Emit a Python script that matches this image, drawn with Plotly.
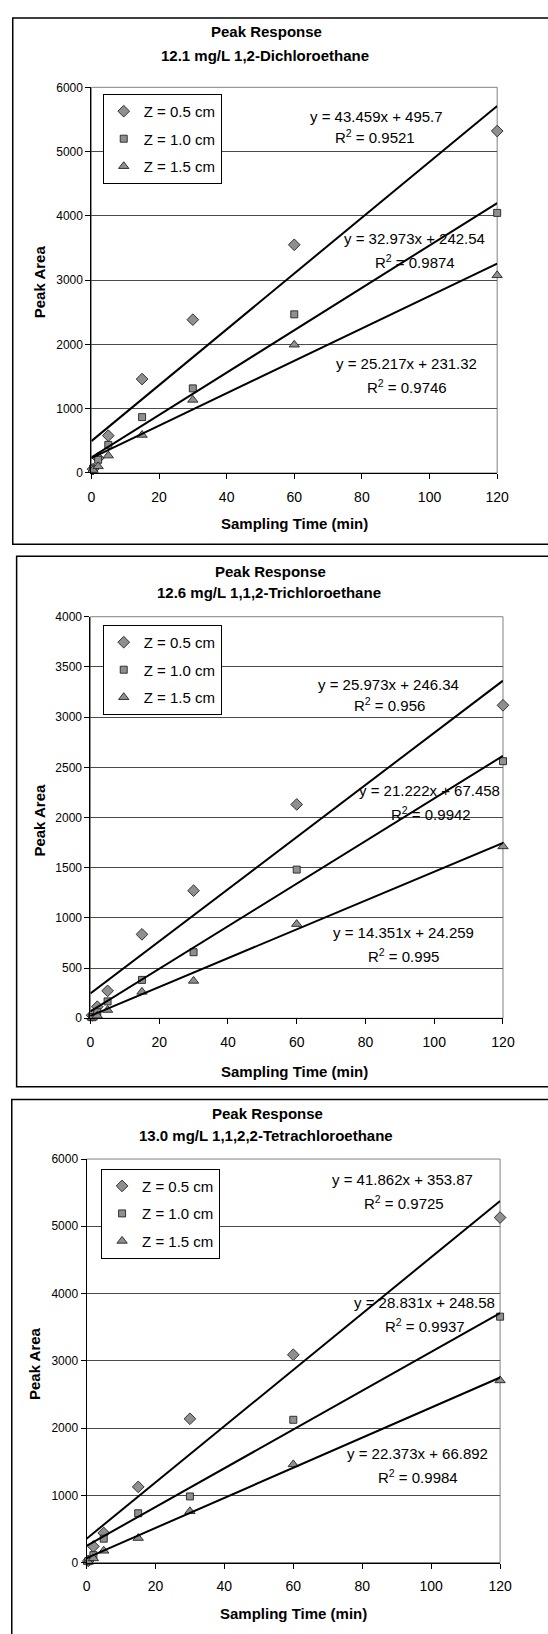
import plotly.graph_objects as go

W, H = 548, 1634
FONT = "Liberation Sans, Arial, sans-serif"

# ---------------- data ----------------
times = [0.5, 2, 5, 15, 30, 60, 120]
series_names = ["Z = 0.5 cm", "Z = 1.0 cm", "Z = 1.5 cm"]
x_ticks = [0, 20, 40, 60, 80, 100, 120]

# Panel 1: 12.1 mg/L 1,2-Dichloroethane
dca_title = "12.1 mg/L 1,2-Dichloroethane"
dca_z05 = [60, 230, 581, 1461, 2385, 3550, 5320]
dca_z10 = [67, 205, 437, 869, 1316, 2468, 4046]
dca_z15 = [45, 103, 270, 591, 1137, 1995, 3075]
dca_slopes = [43.459, 32.973, 25.217]
dca_intercepts = [495.7, 242.54, 231.32]
dca_r2 = ["0.9521", "0.9874", "0.9746"]

# Panel 2: 12.6 mg/L 1,1,2-Trichloroethane
tca_title = "12.6 mg/L 1,1,2-Trichloroethane"
tca_z05 = [30, 115, 273, 836, 1271, 2130, 3118]
tca_z10 = [10, 60, 168, 382, 658, 1481, 2561]
tca_z15 = [5, 25, 82, 263, 372, 938, 1712]
tca_slopes = [25.973, 21.222, 14.351]
tca_intercepts = [246.34, 67.458, 24.259]
tca_r2 = ["0.956", "0.9942", "0.995"]

# Panel 3: 13.0 mg/L 1,1,2,2-Tetrachloroethane
pca_title = "13.0 mg/L 1,1,2,2-Tetrachloroethane"
pca_z05 = [25, 240, 440, 1125, 2138, 3090, 5130]
pca_z10 = [20, 110, 355, 733, 983, 2123, 3656]
pca_z15 = [10, 62, 175, 364, 762, 1460, 2708]
pca_slopes = [41.862, 28.831, 22.373]
pca_intercepts = [353.87, 248.58, 66.892]
pca_r2 = ["0.9725", "0.9937", "0.9984"]

# ---------------- layout (pixel positions) ----------------
def xp(x):
    return x / W

def yp(y):
    return 1 - y / H

symbols = ["diamond", "square", "triangle-up"]
msizes = [9, 7, 9]

panels = [
    dict(title=dca_title, series=[dca_z05, dca_z10, dca_z15], slopes=dca_slopes,
         intercepts=dca_intercepts, r2=dca_r2, ymax=6000, dtick=1000,
         plot=(90, 508, 81, 470), box=(9, 11, 600, 542),
         t1=(270, 25), t2=(269, 49), legend=(101.7, 87.7),
         eq=[((384, 110), (382, 131)), ((423, 233.5), (423, 256.5)), ((415, 360), (415, 383))],
         ytitle=(36.7, 277), xtitle=(299, 521)),
    dict(title=tca_title, series=[tca_z05, tca_z10, tca_z15], slopes=tca_slopes,
         intercepts=tca_intercepts, r2=tca_r2, ymax=4000, dtick=500,
         plot=(89, 514, 615, 1020), box=(13, 554, 600, 1089),
         t1=(274, 569.5), t2=(272.5, 591), legend=(101.7, 623.3),
         eq=[((396, 683.5), (397, 703.5)), ((438.5, 790), (440, 813)), ((411, 933), (411, 957))],
         ytitle=(36.7, 820), xtitle=(299, 1073.5)),
    dict(title=pca_title, series=[pca_z05, pca_z10, pca_z15], slopes=pca_slopes,
         intercepts=pca_intercepts, r2=pca_r2, ymax=6000, dtick=1000,
         plot=(85, 511, 1162, 1569), box=(8, 1102, 600, 1660),
         t1=(271.5, 1116), t2=(270, 1138.5), legend=(100, 1171.7),
         eq=[((410.5, 1183), (412.5, 1205.5)), ((433, 1307), (434, 1330)), ((426, 1459), (426.5, 1482.5))],
         ytitle=(31.7, 1368), xtitle=(298, 1620)),
]

fig = go.Figure()
annotations = []
shapes = []
layout = dict(
    width=W, height=H, margin=dict(l=0, r=0, t=0, b=0),
    paper_bgcolor="white", plot_bgcolor="white",
    font=dict(family=FONT, color="black"),
)

for i, p in enumerate(panels):
    n = "" if i == 0 else str(i + 1)
    xa, ya = "x" + n, "y" + n
    leg = "legend" + n
    L, R, T, B = p["plot"]

    for k in range(3):
        fig.add_trace(go.Scatter(
            x=times, y=p["series"][k], mode="markers", name=series_names[k],
            xaxis=xa, yaxis=ya, legend=leg, legendgroup=f"{i}-{k}",
            cliponaxis=False,
            marker=dict(symbol=symbols[k], size=msizes[k], color="#8f8f8f",
                        line=dict(color="#222222", width=0.9)),
        ))
    for k in range(3):
        xs = [0, 120]
        ys = [p["slopes"][k] * x + p["intercepts"][k] for x in xs]
        fig.add_trace(go.Scatter(
            x=xs, y=ys, mode="lines", showlegend=False, xaxis=xa, yaxis=ya,
            line=dict(color="black", width=2), cliponaxis=False, hoverinfo="skip",
        ))

    layout["xaxis" + n] = dict(
        domain=[xp(L), xp(R)], range=[0, 120], anchor=ya,
        tickvals=x_ticks, ticks="outside", ticklen=5, tickcolor="black",
        showline=True, linecolor="black", linewidth=1, showgrid=False, zeroline=False,
        tickfont=dict(size=14, family=FONT, color="black"), ticklabelstandoff=6,
    )
    layout["yaxis" + n] = dict(
        domain=[yp(B), yp(T)], range=[0, p["ymax"]], anchor=xa, dtick=p["dtick"],
        ticks="outside", ticklen=5, tickcolor="black",
        showline=True, linecolor="black", linewidth=1,
        showgrid=True, gridcolor="#4a4a4a", gridwidth=1, zeroline=False,
        tickfont=dict(size=12, family=FONT, color="black"),
    )
    layout[leg] = dict(
        x=xp(p["legend"][0]), y=yp(p["legend"][1]), xanchor="left", yanchor="top",
        xref="paper", yref="paper",
        bgcolor="white", bordercolor="black", borderwidth=1,
        font=dict(size=15, family=FONT, color="black"),
        traceorder="grouped", tracegroupgap=5, itemwidth=30,
    )

    # plot-area border (gray) and chart-area border (black)
    shapes.append(dict(type="rect", xref="paper", yref="paper",
                       x0=xp(L), x1=xp(R), y0=yp(B), y1=yp(T),
                       line=dict(color="#808080", width=1), layer="between"))
    bx0, by0, bx1, by1 = p["box"]
    shapes.append(dict(type="rect", xref="paper", yref="paper",
                       x0=xp(bx0), x1=xp(bx1), y0=yp(by1), y1=yp(by0),
                       line=dict(color="black", width=1.5), layer="below"))

    annotations.append(dict(text="<b>Peak Response</b>", x=xp(p["t1"][0]), y=yp(p["t1"][1]),
                            xref="paper", yref="paper", showarrow=False,
                            xanchor="center", yanchor="middle", font=dict(size=15, family=FONT)))
    annotations.append(dict(text="<b>" + p["title"] + "</b>", x=xp(p["t2"][0]), y=yp(p["t2"][1]),
                            xref="paper", yref="paper", showarrow=False,
                            xanchor="center", yanchor="middle", font=dict(size=15, family=FONT)))
    annotations.append(dict(text="<b>Peak Area</b>", x=xp(p["ytitle"][0]), y=yp(p["ytitle"][1]),
                            xref="paper", yref="paper", showarrow=False, textangle=-90,
                            xanchor="center", yanchor="middle", font=dict(size=15, family=FONT)))
    annotations.append(dict(text="<b>Sampling Time (min)</b>", x=xp(p["xtitle"][0]), y=yp(p["xtitle"][1]),
                            xref="paper", yref="paper", showarrow=False,
                            xanchor="center", yanchor="middle", font=dict(size=15, family=FONT)))
    for k in range(3):
        (ex, ey), (rx, ry) = p["eq"][k]
        annotations.append(dict(text=f"y = {p['slopes'][k]}x + {p['intercepts'][k]}",
                                x=xp(ex), y=yp(ey), xref="paper", yref="paper", showarrow=False,
                                xanchor="center", yanchor="middle", font=dict(size=15, family=FONT)))
        annotations.append(dict(text=f"R<sup>2</sup> = {p['r2'][k]}",
                                x=xp(rx), y=yp(ry), xref="paper", yref="paper", showarrow=False,
                                xanchor="center", yanchor="middle", font=dict(size=15, family=FONT)))

layout["annotations"] = annotations
layout["shapes"] = shapes
fig.update_layout(**layout)
fig.write_html(
    "out.html",
    config={"displayModeBar": False},
    post_script="document.body.style.margin='0';document.body.style.overflow='hidden';",
)
